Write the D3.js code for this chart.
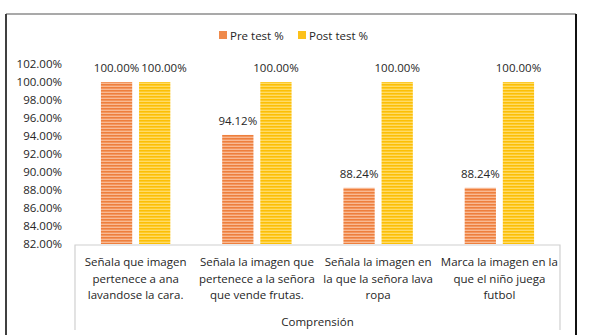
<!DOCTYPE html>
<html lang="es">
<head>
  <meta charset="UTF-8" />
  <title>Comprensión - Pre test / Post test</title>
  <script src="https://d3js.org/d3.v7.min.js"></script>
  <style>
    body { margin: 0; background: #fff; }
    svg text { font-family: "Open Sans", Lato, sans-serif; fill: #262626; }
  </style>
</head>
<body>
  <svg width="596" height="335"></svg>

  <script>
    const categories = [
      "Señala que imagen|pertenece a ana|lavandose la cara.",
      "Señala la imagen que|pertenece a la señora|que vende frutas.",
      "Señala la imagen en|la que la señora lava|ropa",
      "Marca la imagen en la|que el niño juega|futbol"
    ];
    const series = ["Pre test %", "Post test %"];
    const preTest = [100.00, 94.12, 88.24, 88.24];
    const postTest = [100.00, 100.00, 100.00, 100.00];
    const yTicks = [82, 84, 86, 88, 90, 92, 94, 96, 98, 100, 102];
    const groupLabel = "Comprensión";

    const svg = d3.select("svg");

    // patterns: horizontal stripes like the Excel fill
    const defs = svg.append("defs");
    const pats = [
      { id: "pOrange", base: "#f9b993", line: "#ee7f3d" },
      { id: "pYellow", base: "#ffdb66", line: "#fcbf06" }
    ];
    pats.forEach(p => {
      const pat = defs.append("pattern")
        .attr("id", p.id)
        .attr("patternUnits", "userSpaceOnUse")
        .attr("width", 4).attr("height", 3);
      pat.append("rect").attr("width", 4).attr("height", 3).attr("fill", p.base);
      pat.append("rect").attr("width", 4).attr("height", 1.6).attr("fill", p.line);
    });
    const color = d3.scaleOrdinal().domain(series).range(["url(#pOrange)", "url(#pYellow)"]);
    const legendColor = d3.scaleOrdinal().domain(series).range(["#ef8a4c", "#fcc11a"]);

    // outer frame
    svg.append("line").attr("x1", 6).attr("x2", 576).attr("y1", 14).attr("y2", 14)
      .attr("stroke", "#8c8c8c").attr("stroke-width", 1.5);
    svg.append("line").attr("x1", 6).attr("x2", 6).attr("y1", 14).attr("y2", 335)
      .attr("stroke", "#404040").attr("stroke-width", 2);
    svg.append("line").attr("x1", 576).attr("x2", 576).attr("y1", 14).attr("y2", 335)
      .attr("stroke", "#111").attr("stroke-width", 2);

    const plotLeft = 75, plotRight = 560, plotTop = 64, plotBottom = 244;

    const x0 = d3.scaleBand().domain(d3.range(categories.length)).range([plotLeft, plotRight]);
    const x1 = d3.scaleBand().domain(series).range([0, x0.bandwidth()]).paddingInner(0.18).paddingOuter(0.68);
    const y = d3.scaleLinear().domain([82, 102]).range([plotBottom, plotTop]);

    // y axis labels
    const yAxis = svg.append("g")
      .attr("transform", `translate(${plotLeft - 13},0)`)
      .call(d3.axisLeft(y).tickValues(yTicks).tickSize(0).tickPadding(0)
        .tickFormat(d => d.toFixed(2) + "%"));
    yAxis.select(".domain").remove();
    yAxis.selectAll("text").style("font-size", "11.5px").style("font-family", "'Open Sans', sans-serif").attr("fill", "#262626");

    // bars
    const data = categories.map((c, i) => ({ i, values: [preTest[i], postTest[i]] }));
    const groups = svg.selectAll(".grp").data(data).enter().append("g")
      .attr("class", "grp")
      .attr("transform", d => `translate(${x0(d.i)},0)`);

    groups.selectAll("rect").data(d => d.values.map((v, k) => ({ s: series[k], v })))
      .enter().append("rect")
      .attr("x", d => x1(d.s))
      .attr("width", x1.bandwidth())
      .attr("y", d => y(d.v))
      .attr("height", d => y(82) - y(d.v))
      .attr("fill", d => color(d.s));

    // data labels, pushed apart when two in a group would collide
    groups.each(function(d) {
      const g = d3.select(this);
      const lbls = d.values.map((v, k) => g.append("text")
        .attr("x", x1(series[k]) + x1.bandwidth() / 2)
        .attr("y", y(v) - 10)
        .attr("text-anchor", "middle")
        .style("font-size", "11.5px")
        .text(v.toFixed(2) + "%"));
      if (Math.abs(d.values[0] - d.values[1]) < 1.2) {
        const b0 = lbls[0].node().getBBox(), b1 = lbls[1].node().getBBox();
        const overlap = b0.x + b0.width + 2 - b1.x;
        if (overlap > 0) lbls[1].attr("x", +lbls[1].attr("x") + overlap);
      }
    });

    // category axis box
    svg.append("path")
      .attr("d", `M${plotLeft},330V${plotBottom + 1}H${plotRight}V330`)
      .attr("fill", "none").attr("stroke", "#d0d0d0").attr("stroke-width", 1.2);

    groups.each(function(d) {
      const lines = categories[d.i].split("|");
      const t = d3.select(this).append("text")
        .attr("text-anchor", "middle")
        .style("font-size", "11.5px");
      lines.forEach((ln, k) => {
        t.append("tspan").attr("x", x0.bandwidth() / 2).attr("y", 266 + k * 16.5).text(ln);
      });
    });

    svg.append("text")
      .attr("x", (plotLeft + plotRight) / 2)
      .attr("y", 326)
      .attr("text-anchor", "middle")
      .style("font-size", "11.5px")
      .text(groupLabel);

    // legend
    const legendX = [219, 298];
    series.forEach((s, k) => {
      svg.append("rect").attr("x", legendX[k]).attr("y", 31).attr("width", 8).attr("height", 8)
        .attr("fill", legendColor(s));
      svg.append("text").attr("x", legendX[k] + 11).attr("y", 39.5)
        .style("font-size", "11.5px").text(s);
    });
  </script>
</body>
</html>
